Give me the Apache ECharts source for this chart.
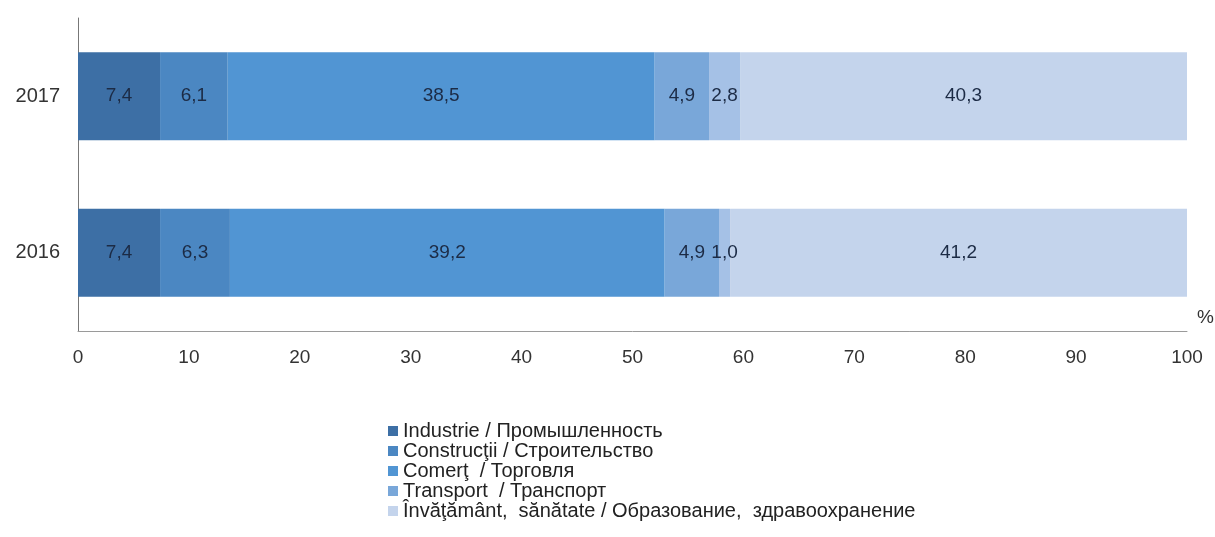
<!DOCTYPE html>
<html>
<head>
<meta charset="utf-8">
<script src="https://cdn.jsdelivr.net/npm/echarts@6/dist/echarts.min.js"></script>
<style>
  html, body { margin: 0; padding: 0; background: #fff; }
  #chart { width: 1215px; height: 537px; }
</style>
</head>
<body>
<div id="chart"></div>
<script>
// categories (bottom to top)
const years = ['2016', '2017'];
const xTicks = [0, 10, 20, 30, 40, 50, 60, 70, 80, 90, 100];

// series values, one per year (2016, 2017)
const industrie = [7.4, 7.4];
const constructii = [6.3, 6.1];
const comert = [39.2, 38.5];
const transport = [4.9, 4.9];
const altele = [1.0, 2.8];
const invatamant = [41.2, 40.3];

const names = [
    'Industrie / Промышленность',
    'Construcţii / Строительство',
    'Comerţ  / Торговля',
    'Transport  / Транспорт',
    '',
    'Învăţământ,  sănătate / Образование,  здравоохранение'
];
const colors = ['#3d6fa5', '#4b87c2', '#5195d3', '#79a7d9', '#a5c1e6', '#c4d4ec'];
const values = [industrie, constructii, comert, transport, altele, invatamant];

const FONT = 'Liberation Sans, Arial, sans-serif';

let mychart = echarts.init(document.getElementById('chart'));

let series = values.map(function (v, i) {
    return {
        name: names[i] || 'Alte',
        type: 'bar',
        stack: 'total',
        barWidth: 88,
        data: v,
        itemStyle: { color: colors[i] },
        label: {
            show: true,
            position: 'inside',
            color: '#1c2b45',
            fontSize: 19,
            fontFamily: FONT,
            formatter: function (p) {
                return p.value.toFixed(1).replace('.', ',');
            }
        }
    };
});

mychart.setOption({
    animation: false,
    textStyle: { fontFamily: FONT },
    grid: {
        left: 78,
        right: 28,
        top: 18,
        bottom: 206
    },
    xAxis: {
        type: 'value',
        min: 0,
        max: 100,
        interval: 10,
        splitLine: { show: false },
        axisTick: { show: false },
        axisLine: { show: true, lineStyle: { color: '#9a9a9a', width: 1 } },
        axisLabel: {
            margin: 17,
            fontSize: 19,
            color: '#333',
            formatter: function (v) {
                return xTicks.indexOf(v) >= 0 ? String(v) : '';
            }
        }
    },
    yAxis: {
        type: 'category',
        data: years,
        axisTick: { show: false },
        axisLine: { show: true, lineStyle: { color: '#777', width: 1 } },
        axisLabel: {
            margin: 18,
            fontSize: 20,
            color: '#333'
        }
    },
    legend: {
        orient: 'vertical',
        left: 388,
        top: 421,
        padding: 0,
        data: names.filter(function (n) { return n; }),
        icon: 'rect',
        itemWidth: 10,
        itemHeight: 10,
        itemGap: 0,
        textStyle: {
            fontSize: 20,
            lineHeight: 20,
            color: '#222'
        }
    },
    graphic: [{
        type: 'text',
        left: 1197,
        top: 308,
        style: {
            text: '%',
            fontSize: 19,
            fill: '#333',
            fontFamily: FONT
        }
    }],
    series: series
});
</script>
</body>
</html>
